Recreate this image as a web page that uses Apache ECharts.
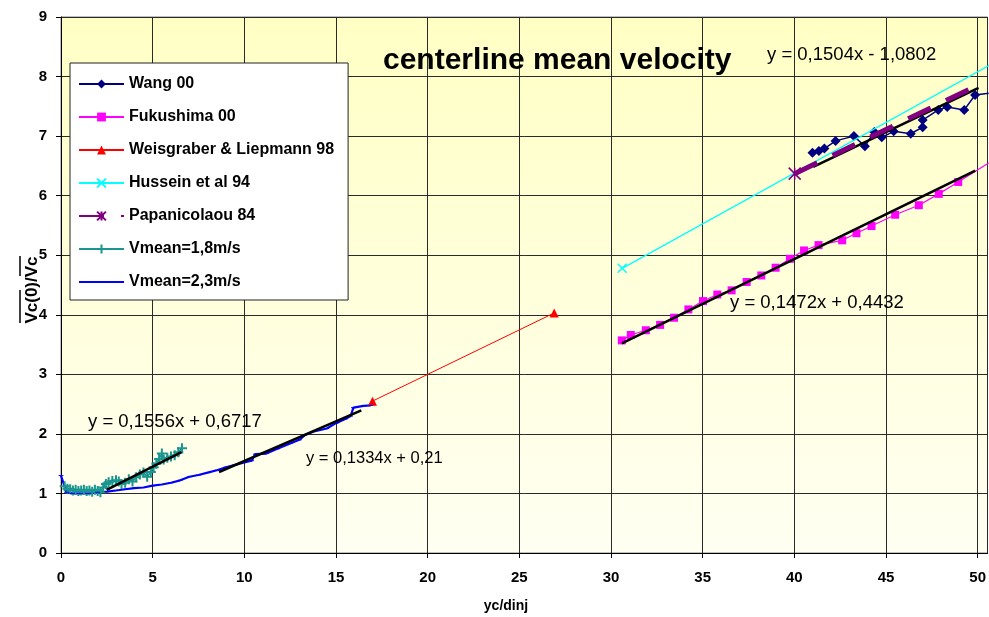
<!DOCTYPE html>
<html>
<head>
<meta charset="utf-8">
<script src="https://cdn.jsdelivr.net/npm/echarts@6/dist/echarts.min.js"></script>
<style>
  html, body { margin: 0; padding: 0; background: #ffffff; }
  #chart { width: 989px; height: 617px; }
</style>
</head>
<body>
<div id="chart"></div>
<script>
// ---- measured data: [yc/dinj, Vc(0)/Vc] ----
const wang00 = [
  [40.99, 6.72], [41.34, 6.75], [41.64, 6.79], [42.25, 6.92], [43.25, 7.00],
  [43.85, 6.83], [44.36, 7.07], [44.77, 6.98], [45.42, 7.08], [46.35, 7.04],
  [47.00, 7.15], [47.00, 7.27], [47.85, 7.44], [48.34, 7.49], [49.27, 7.44],
  [49.86, 7.69], [50.60, 7.72]
];
const fukushima00 = [
  [30.59, 3.57], [31.08, 3.66], [31.90, 3.74], [32.68, 3.83], [33.44, 3.95],
  [34.22, 4.09], [35.02, 4.23], [35.80, 4.34], [36.58, 4.41], [37.40, 4.55],
  [38.20, 4.66], [38.98, 4.79], [39.76, 4.94], [40.53, 5.08], [41.32, 5.17],
  [42.61, 5.25], [43.39, 5.37], [44.21, 5.49], [45.50, 5.68], [46.79, 5.84],
  [47.88, 6.03], [48.94, 6.23], [50.60, 6.55]
];
const weisgraber98 = [[16.99, 2.55], [26.90, 4.03]];
const hussein94 = [[30.61, 4.78], [55.00, 8.93]];
const papanicolaou84 = [[40.02, 6.37], [50.05, 7.86]];
const vmean18 = [
  [0.20, 1.12], [0.35, 1.08], [0.50, 1.07], [0.65, 1.05], [0.80, 1.06],
  [0.95, 1.04], [1.10, 1.05], [1.25, 1.06], [1.40, 1.04], [1.55, 1.05],
  [1.70, 1.03], [1.85, 1.06], [2.00, 1.04], [2.15, 1.02], [2.30, 1.10],
  [2.45, 1.16], [2.60, 1.19], [2.80, 1.21], [3.00, 1.22], [3.15, 1.20],
  [3.30, 1.16], [3.50, 1.18], [3.70, 1.24], [3.90, 1.20], [4.10, 1.27],
  [4.30, 1.32], [4.50, 1.35], [4.70, 1.28], [4.90, 1.36], [5.05, 1.44],
  [5.20, 1.50], [5.35, 1.58], [5.50, 1.67], [5.60, 1.57], [5.80, 1.60],
  [6.00, 1.62], [6.20, 1.64], [6.40, 1.69], [6.60, 1.76]
];
const vmean23 = [
  [0.00, 1.30], [0.30, 1.02], [0.60, 1.00], [1.00, 1.00], [1.50, 1.00],
  [2.00, 1.02], [2.50, 1.03], [3.00, 1.05], [3.50, 1.07], [4.00, 1.09],
  [4.50, 1.10], [5.00, 1.13], [5.50, 1.15], [6.00, 1.18], [6.50, 1.22],
  [7.00, 1.28], [7.50, 1.31], [8.00, 1.35], [8.50, 1.39], [9.00, 1.44],
  [9.50, 1.48], [10.00, 1.52], [10.40, 1.55], [10.60, 1.66], [11.20, 1.67],
  [11.80, 1.75], [12.50, 1.84], [13.00, 1.90], [13.30, 1.98], [13.80, 2.04],
  [14.50, 2.09], [15.00, 2.18], [15.50, 2.25], [15.80, 2.30], [15.95, 2.44],
  [16.50, 2.47], [16.90, 2.48]
];

// ---- linear trendlines: slope, intercept, x range ----
const trendSlopes     = [0.1556, 0.1334, 0.1504, 0.1472];
const trendIntercepts = [0.6717, 0.21, -1.0802, 0.4432];
const trendRanges     = [[2.49, 6.57], [8.62, 16.38], [30.59, 49.87], [41.03, 50.05]];

const xTicks = [0, 5, 10, 15, 20, 25, 30, 35, 40, 45, 50];
const yTicks = [0, 1, 2, 3, 4, 5, 6, 7, 8, 9];

const FONT = '"Liberation Sans", Arial, Helvetica, sans-serif';

function trendPoints(i) {
  return trendRanges[i].map(x => [x, trendSlopes[i] * x + trendIntercepts[i]]);
}
function fmt(v) { return String(Math.abs(v)).replace('.', ','); }
function trendLabel(i) {
  const b = trendIntercepts[i];
  return 'y = ' + fmt(trendSlopes[i]) + 'x ' + (b < 0 ? '- ' : '+ ') + fmt(b);
}

// stroked marker shapes
const crossPath = 'path://M0,0L10,10M10,0L0,10';
const plusPath = 'path://M5,0L5,10M0,5L10,5';
const starPath = 'path://M0,0L10,10M10,0L0,10M5,0L5,10';
// short horizontal dash inside a square box
const dashPath = 'path://M0,0M10,10M1,4.2L9,4.2L9,5.8L1,5.8Z';

const chart = echarts.init(document.getElementById('chart'), null, { renderer: 'canvas' });

const trendSeries = [0, 1, 2, 3].map(i => ({
  name: 'trend' + i,
  type: 'line',
  data: trendPoints(i),
  symbol: 'none',
  lineStyle: { color: '#000000', width: 2.6 },
  z: 4,
  silent: true
}));

const option = {
  animation: false,
  backgroundColor: '#ffffff',
  title: {
    text: 'centerline mean velocity',
    left: 383, top: 46, padding: 0,
    textStyle: { fontFamily: FONT, fontWeight: 'bold', fontSize: 30, color: '#000' }
  },
  legend: {
    orient: 'vertical',
    left: 70, top: 63,
    padding: [13, 14, 10, 8],
    itemWidth: 45, itemHeight: 11, itemGap: 17,
    backgroundColor: '#ffffff',
    borderColor: '#222222', borderWidth: 1, borderRadius: 0,
    textStyle: { fontFamily: FONT, fontWeight: 'bold', fontSize: 16, color: '#000' },
    data: ['Wang 00', 'Fukushima 00', 'Weisgraber & Liepmann 98', 'Hussein et al 94',
           'Papanicolaou 84', 'Vmean=1,8m/s', 'Vmean=2,3m/s'],
    selectedMode: false,
    z: 10
  },
  grid: {
    left: 61, right: 0, top: 17, bottom: 64,
    show: true,
    borderColor: '#808080', borderWidth: 1,
    backgroundColor: new echarts.graphic.LinearGradient(0, 0, 0, 1, [
      { offset: 0, color: '#ffffc4' },
      { offset: 1, color: '#fffff2' }
    ])
  },
  xAxis: {
    type: 'value',
    min: 0, max: 50.54, interval: 5,
    axisLine: { show: true, onZero: false, lineStyle: { color: '#000', width: 1 } },
    axisTick: { show: true, length: 5, lineStyle: { color: '#000' } },
    axisLabel: {
      margin: 17, showMaxLabel: false,
      fontFamily: FONT, fontWeight: 'bold', fontSize: 15, color: '#000',
      formatter: v => (xTicks.indexOf(v) >= 0 ? String(v) : '')
    },
    splitLine: { show: true, lineStyle: { color: '#2a2a2a', width: 1 } }
  },
  yAxis: {
    type: 'value',
    min: 0, max: 9, interval: 1,
    axisLine: { show: true, onZero: false, lineStyle: { color: '#000', width: 1 } },
    axisTick: { show: true, length: 5, lineStyle: { color: '#000' } },
    axisLabel: {
      margin: 14,
      fontFamily: FONT, fontWeight: 'bold', fontSize: 15, color: '#000',
      formatter: v => (yTicks.indexOf(v) >= 0 ? String(v) : '')
    },
    splitLine: { show: true, lineStyle: { color: '#2a2a2a', width: 1 } }
  },
  series: [
    {
      name: 'Wang 00', type: 'line', data: wang00,
      symbol: 'diamond', symbolSize: 10,
      itemStyle: { color: '#000080' },
      lineStyle: { color: '#000080', width: 1.5 }, z: 3
    },
    {
      name: 'Fukushima 00', type: 'line', data: fukushima00,
      symbol: 'rect', symbolSize: 8,
      itemStyle: { color: '#ff00ff' },
      lineStyle: { color: '#ff00ff', width: 1.2 }, z: 3
    },
    {
      name: 'Weisgraber & Liepmann 98', type: 'line', data: weisgraber98,
      symbol: 'triangle', symbolSize: 9,
      itemStyle: { color: '#ff0000' },
      lineStyle: { color: '#ff0000', width: 1 }, z: 3
    },
    {
      name: 'Hussein et al 94', type: 'line', data: hussein94,
      symbol: crossPath, symbolSize: 9,
      itemStyle: { color: 'none', borderColor: '#00ffff', borderWidth: 1.5 },
      lineStyle: { color: '#00ffff', width: 1.3 }, z: 5
    },
    {
      name: 'Vmean=1,8m/s', type: 'line', data: vmean18,
      symbol: plusPath, symbolSize: 10,
      itemStyle: { color: 'none', borderColor: '#1a9590', borderWidth: 2 },
      lineStyle: { color: '#1a9590', width: 1.5 }, z: 3
    },
    {
      name: 'Vmean=2,3m/s', type: 'line', data: vmean23,
      symbol: dashPath, symbolSize: 6,
      itemStyle: { color: '#0000ff' },
      lineStyle: { color: '#0000ff', width: 2.2 }, z: 3
    },
    ...trendSeries,
    {
      name: 'Papanicolaou 84', type: 'line',
      data: papanicolaou84.map((p, i) => (i === 0 ? p : { value: p, symbol: 'none' })),
      symbol: starPath, symbolSize: 12,
      itemStyle: { color: 'none', borderColor: '#800080', borderWidth: 1.5 },
      lineStyle: { color: '#800080', width: 5, type: [25, 17] }, z: 6
    }
  ],
  graphic: [
    { type: 'text', left: 767, top: 45, z: 20,
      style: { text: trendLabel(2), font: '18.5px ' + FONT, fill: '#000' } },
    { type: 'text', left: 730, top: 293, z: 20,
      style: { text: trendLabel(3), font: '18.5px ' + FONT, fill: '#000' } },
    { type: 'text', left: 88, top: 412, z: 20,
      style: { text: trendLabel(0), font: '18.5px ' + FONT, fill: '#000' } },
    { type: 'text', left: 306, top: 450, z: 20,
      style: { text: trendLabel(1), font: '16.5px ' + FONT, fill: '#000' } },
    { type: 'text', x: 506, y: 606, z: 20,
      style: { text: 'yc/dinj', font: 'bold 14px ' + FONT, fill: '#000',
               align: 'center', verticalAlign: 'middle' } },
    { type: 'text', x: 32, y: 290, rotation: Math.PI / 2, z: 20,
      style: { text: 'Vc(0)/Vc', font: 'bold 17px ' + FONT, fill: '#000',
               align: 'center', verticalAlign: 'middle' } },
    { type: 'line', z: 20, shape: { x1: 20, y1: 290, x2: 20, y2: 323 },
      style: { stroke: '#000', lineWidth: 1.5 } },
    { type: 'line', z: 20, shape: { x1: 20, y1: 256, x2: 20, y2: 276 },
      style: { stroke: '#000', lineWidth: 1.5 } }
  ]
};

chart.setOption(option);
</script>
</body>
</html>
